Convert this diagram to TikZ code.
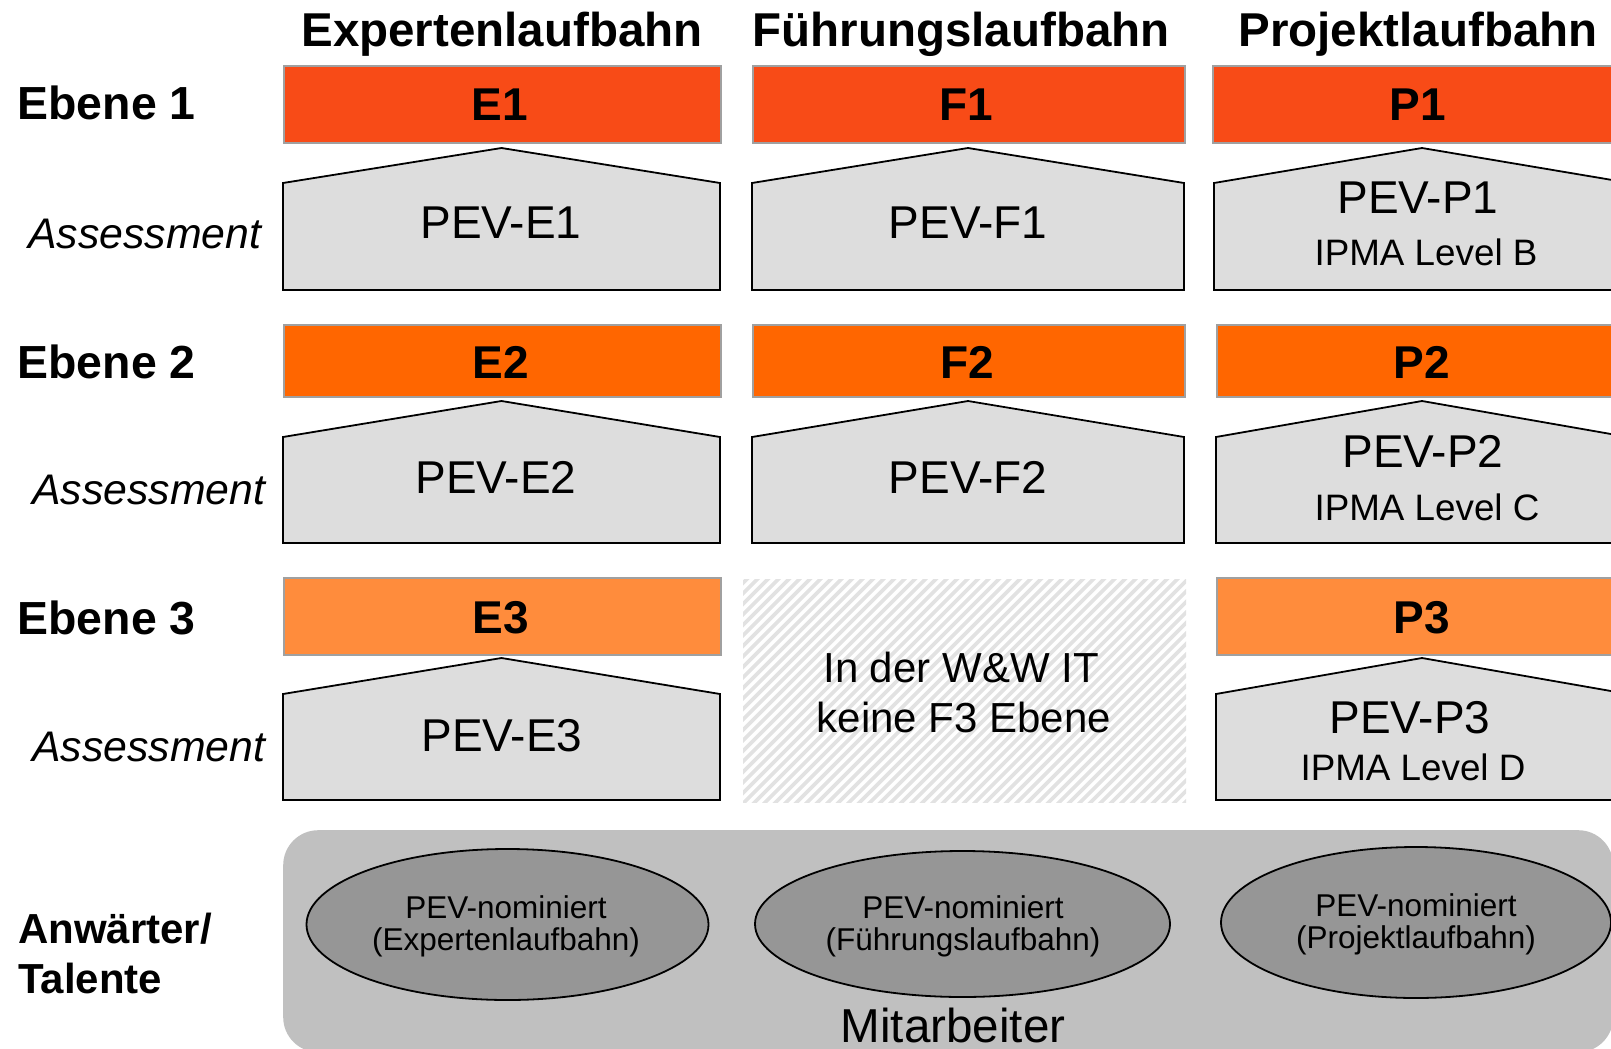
\documentclass[tikz,border=0pt]{standalone}
\usepackage{fontspec}
\setmainfont{Liberation Sans}
\usetikzlibrary{shapes.geometric}
\definecolor{oA}{RGB}{248,75,23}
\definecolor{oB}{RGB}{255,102,0}
\definecolor{oC}{RGB}{255,140,60}
\definecolor{pg}{RGB}{221,221,221}
\definecolor{rg}{RGB}{192,192,192}
\definecolor{eg}{RGB}{150,150,150}
\definecolor{hatchc}{RGB}{226,226,226}
\definecolor{barline}{RGB}{160,160,160}
\newcommand\mypent[6]{%
  \draw[pentshape] (#2,#6) -- (#2,#5) -- ({(#2+#3)/2},#4) -- (#3,#5) -- (#3,#6) -- cycle;
  \coordinate (#1) at ({(#2+#3)/2},{(#5+#6)/2});}
\begin{document}
\begin{tikzpicture}[x=1pt,y=-1pt,
  barbox/.style={draw=barline, line width=1.6pt, anchor=north west, inner sep=0pt, minimum height=#1},
  pentshape/.style={draw=black, line width=1.8pt, fill=pg, line join=miter},
  head/.style={anchor=base, inner sep=0pt, font=\fontsize{47.5}{57}\selectfont\bfseries},
  rowlab/.style={anchor=base west, inner sep=0pt, font=\fontsize{46.4}{56}\selectfont\bfseries},
  asslab/.style={anchor=base west, inner sep=0pt, font=\fontsize{42.8}{51}\selectfont\itshape},
  barlab/.style={anchor=base, inner sep=0pt, font=\fontsize{46}{55}\selectfont\bfseries},
  pevlab/.style={anchor=base, inner sep=0pt, font=\fontsize{46}{55}\selectfont},
  ipmalab/.style={anchor=base, inner sep=0pt, font=\fontsize{36.8}{44}\selectfont},
  hatchlab/.style={anchor=base, inner sep=0pt, font=\fontsize{42}{50}\selectfont},
  elllab/.style={anchor=base, inner sep=0pt, font=\fontsize{31.5}{38}\selectfont},
  ellnode/.style={ellipse, draw=black, line width=1.8pt, fill=eg, inner sep=0pt},
  stripe/.style={draw=hatchc, line width=3.6pt}
]
\useasboundingbox (0,0) rectangle (1611,1049);
\begin{scope}
\clip (0,0) rectangle (1611,1049);

% column headers
\node[head] (hE) at (502,47) {Expertenlaufbahn};
\node[head] (hF) at (961,47) {Führungslaufbahn};
\node[head] (hP) at (1418,47) {Projektlaufbahn};

% row labels
\node[rowlab] (r1) at (17.5,119) {Ebene 1};
\node[rowlab] (r2) at (17.5,378) {Ebene 2};
\node[rowlab] (r3) at (17.5,634) {Ebene 3};
\node[asslab] (a1) at (28,248) {Assessment};
\node[asslab] (a2) at (32,504) {Assessment};
\node[asslab] (a3) at (32,761) {Assessment};
\node[rowlab, font=\fontsize{42}{50}\selectfont\bfseries] (t1) at (18,943) {Anwärter/};
\node[rowlab, font=\fontsize{42}{50}\selectfont\bfseries] (t2) at (18,993) {Talente};

% level bars
\node[barbox=77pt, fill=oA, minimum width=437pt] (bE1) at (283,65) {};
\node[barbox=77pt, fill=oA, minimum width=432pt] (bF1) at (752,65) {};
\node[barbox=77pt, fill=oA, minimum width=440pt] (bP1) at (1212,65) {};
\node[barbox=72pt, fill=oB, minimum width=437pt] (bE2) at (283,324) {};
\node[barbox=72pt, fill=oB, minimum width=432pt] (bF2) at (752,324) {};
\node[barbox=72pt, fill=oB, minimum width=440pt] (bP2) at (1216,324) {};
\node[barbox=77pt, fill=oC, minimum width=437pt] (bE3) at (283,577) {};
\node[barbox=77pt, fill=oC, minimum width=440pt] (bP3) at (1216,577) {};

\node[barlab] (lE1) at (500,120) {E1};
\node[barlab] (lF1) at (966,120) {F1};
\node[barlab] (lP1) at (1418,120) {P1};
\node[barlab] (lE2) at (501,378) {E2};
\node[barlab] (lF2) at (967,378) {F2};
\node[barlab] (lP2) at (1422,378) {P2};
\node[barlab] (lE3) at (501,633) {E3};
\node[barlab] (lP3) at (1422,633) {P3};

% assessment pentagons
\mypent{pE1}{283}{720}{148}{183}{290}
\mypent{pF1}{752}{1184}{148}{183}{290}
\mypent{pP1}{1214}{1630}{148}{183}{290}
\mypent{pE2}{283}{720}{401}{437}{543}
\mypent{pF2}{752}{1184}{401}{437}{543}
\mypent{pP2}{1216}{1628}{401}{437}{543}
\mypent{pE3}{283}{720}{658}{694}{800}
\mypent{pP3}{1216}{1628}{658}{694}{800}

\node[pevlab] (tE1) at (501,238) {PEV-E1};
\node[pevlab] (tF1) at (968,238) {PEV-F1};
\node[pevlab] (tP1) at (1418,213) {PEV-P1};
\node[ipmalab] (iP1) at (1426,265) {IPMA Level B};
\node[pevlab] (tE2) at (496,493) {PEV-E2};
\node[pevlab] (tF2) at (968,493) {PEV-F2};
\node[pevlab] (tP2) at (1423,467) {PEV-P2};
\node[ipmalab] (iP2) at (1427,520) {IPMA Level C};
\node[pevlab] (tE3) at (502,751) {PEV-E3};
\node[pevlab] (tP3) at (1410,733) {PEV-P3};
\node[ipmalab] (iP3) at (1413,780) {IPMA Level D};

% hatched area: no F3
\node[anchor=north west, inner sep=0pt, minimum width=443pt, minimum height=223pt] (noF3) at (743,579) {};
\begin{scope}
  \clip (743,579) rectangle (1186,802);
  \foreach \k in {0,...,70} {
    \draw[stripe] ({520+\k*10.5},806) -- ++(232,-232);
  }
\end{scope}
\node[hatchlab] (h1) at (961,682) {In der W\&W IT};
\node[hatchlab] (h2) at (964,732) {keine F3 Ebene};

% candidates pool
\node[fill=rg, rounded corners=35pt, anchor=north west, inner sep=0pt, minimum width=1330pt, minimum height=222pt] (pool) at (283,830) {};
\node[ellnode, minimum width=402pt, minimum height=151pt] (nE) at (507.5,924.5) {};
\node[ellnode, minimum width=415pt, minimum height=146pt] (nF) at (962.5,924) {};
\node[ellnode, minimum width=390pt, minimum height=151pt] (nP) at (1416,922.5) {};
\node[elllab] (nE1) at (506,918) {PEV-nominiert};
\node[elllab] (nE2) at (506,950) {(Expertenlaufbahn)};
\node[elllab] (nF1) at (963,918) {PEV-nominiert};
\node[elllab] (nF2) at (963,950) {(Führungslaufbahn)};
\node[elllab] (nP1) at (1416,916) {PEV-nominiert};
\node[elllab] (nP2) at (1416,948) {(Projektlaufbahn)};
\node[anchor=base, inner sep=0pt, font=\fontsize{47.6}{57}\selectfont] (mit) at (953,1042) {Mitarbeiter};
\end{scope}
\end{tikzpicture}
\end{document}
